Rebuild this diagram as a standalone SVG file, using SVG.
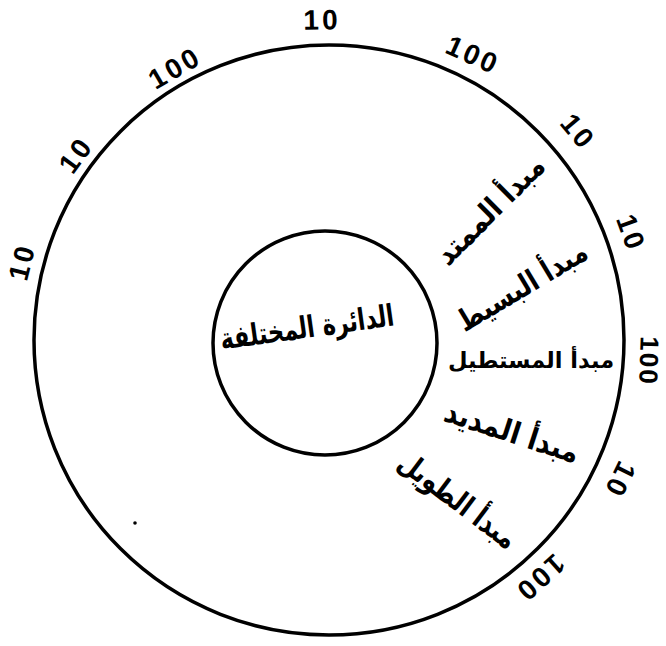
<svg xmlns="http://www.w3.org/2000/svg" width="666" height="646" viewBox="0 0 666 646">
<style>
.ring{fill:none;stroke:#000;stroke-width:3.5}
.num{font-family:"Liberation Sans",Arial,sans-serif;font-size:28px;font-weight:bold;fill:#000;text-anchor:middle;dominant-baseline:central;letter-spacing:3px}
.ar{font-family:"DejaVu Sans",sans-serif;font-size:30px;font-weight:bold;fill:#000;text-anchor:middle;dominant-baseline:central}
</style>
<rect width="666" height="646" fill="#fff"/>
<g id="outer-circle"><circle class="ring" cx="329" cy="340" r="295"/></g>
<g id="inner-circle">
<circle class="ring" cx="325" cy="343" r="112"/>
<text class="ar" transform="translate(307,327) rotate(-8)" textLength="175" lengthAdjust="spacingAndGlyphs" direction="rtl">الدائرة المختلفة</text>
</g>
<g id="meter-labels">
<text class="ar" transform="translate(490,210) rotate(-45)" textLength="140" lengthAdjust="spacingAndGlyphs" direction="rtl">مبدأ الممتد</text>
<text class="ar" transform="translate(522,286) rotate(-31)" textLength="146" lengthAdjust="spacingAndGlyphs" direction="rtl">مبدأ البسيط</text>
<text class="ar" transform="translate(531,360)" direction="rtl" style="font-size:22.5px">مبدأ المستطيل</text>
<text class="ar" transform="translate(512,432) rotate(18)" textLength="140" lengthAdjust="spacingAndGlyphs" direction="rtl">مبدأ المديد</text>
<text class="ar" transform="translate(458,500) rotate(37)" textLength="140" lengthAdjust="spacingAndGlyphs" direction="rtl">مبدأ الطويل</text>
</g>
<g id="notation-labels">
<text class="num" transform="translate(22,262) rotate(-76)">10</text>
<text class="num" transform="translate(76,155) rotate(-54)">10</text>
<text class="num" transform="translate(175,68) rotate(-30)">100</text>
<text class="num" transform="translate(322,20) rotate(-1)">10</text>
<text class="num" transform="translate(473,55) rotate(24)">100</text>
<text class="num" transform="translate(578,132) rotate(50)">10</text>
<text class="num" transform="translate(631,233) rotate(70)">10</text>
<text class="num" transform="translate(649,361) rotate(92)" style="font-size:26px;letter-spacing:2px">100</text>
<text class="num" transform="translate(620,480) rotate(116)">10</text>
<text class="num" transform="translate(540,578) rotate(138)">100</text>
</g>
<circle cx="135" cy="523" r="1.8" fill="#000"/>
</svg>
